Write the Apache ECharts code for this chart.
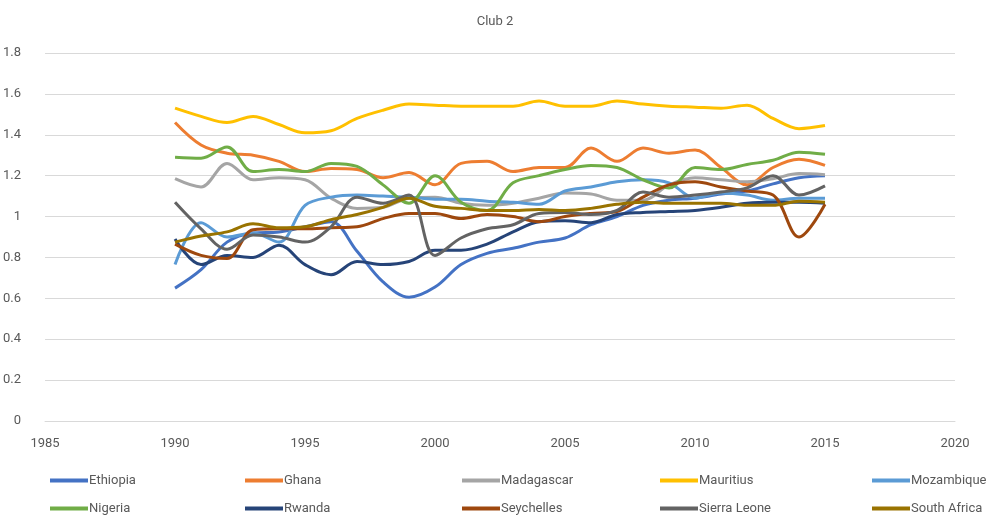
<!DOCTYPE html>
<html>
<head>
<meta charset="utf-8">
<script src="https://cdn.jsdelivr.net/npm/echarts@6/dist/echarts.min.js"></script>
<style>
  html, body { margin: 0; padding: 0; background: #fff; }
  #chart { width: 990px; height: 517px; }
</style>
</head>
<body>
<div id="chart"></div>
<script>
// years on the x axis
var years = [1990, 1991, 1992, 1993, 1994, 1995, 1996, 1997, 1998, 1999,
             2000, 2001, 2002, 2003, 2004, 2005, 2006, 2007, 2008, 2009,
             2010, 2011, 2012, 2013, 2014, 2015];

var ethiopia   = [0.65, 0.74, 0.875, 0.92, 0.925, 0.95, 0.975, 0.83, 0.68, 0.605, 0.655, 0.765, 0.82, 0.845, 0.875, 0.895, 0.96, 1.0, 1.055, 1.08, 1.09, 1.11, 1.125, 1.16, 1.19, 1.2];
var ghana      = [1.46, 1.35, 1.31, 1.30, 1.27, 1.22, 1.235, 1.23, 1.19, 1.215, 1.155, 1.26, 1.27, 1.22, 1.24, 1.24, 1.335, 1.27, 1.335, 1.31, 1.325, 1.24, 1.155, 1.24, 1.28, 1.25];
var madagascar = [1.185, 1.145, 1.26, 1.18, 1.19, 1.18, 1.09, 1.04, 1.045, 1.09, 1.095, 1.065, 1.055, 1.065, 1.09, 1.115, 1.11, 1.08, 1.08, 1.155, 1.19, 1.18, 1.17, 1.185, 1.21, 1.205];
var mauritius  = [1.53, 1.49, 1.46, 1.49, 1.45, 1.41, 1.42, 1.48, 1.52, 1.55, 1.545, 1.54, 1.54, 1.54, 1.565, 1.54, 1.54, 1.565, 1.55, 1.54, 1.535, 1.53, 1.545, 1.48, 1.43, 1.445];
var mozambique = [0.765, 0.97, 0.9, 0.92, 0.875, 1.055, 1.095, 1.105, 1.1, 1.095, 1.085, 1.085, 1.075, 1.07, 1.06, 1.125, 1.145, 1.17, 1.18, 1.165, 1.09, 1.115, 1.105, 1.08, 1.09, 1.09];
var nigeria    = [1.29, 1.285, 1.34, 1.22, 1.23, 1.22, 1.26, 1.245, 1.155, 1.065, 1.2, 1.07, 1.03, 1.165, 1.2, 1.23, 1.25, 1.24, 1.18, 1.14, 1.24, 1.23, 1.255, 1.275, 1.315, 1.305];
var rwanda     = [0.89, 0.765, 0.81, 0.8, 0.86, 0.765, 0.715, 0.78, 0.765, 0.78, 0.835, 0.835, 0.865, 0.925, 0.975, 0.98, 0.97, 1.01, 1.02, 1.025, 1.03, 1.045, 1.065, 1.07, 1.07, 1.065];
var seychelles = [0.865, 0.81, 0.795, 0.935, 0.94, 0.94, 0.945, 0.95, 0.99, 1.015, 1.015, 0.99, 1.01, 1.0, 0.975, 1.0, 1.015, 1.025, 1.095, 1.155, 1.17, 1.145, 1.125, 1.105, 0.9, 1.06];
var sierraLeone = [1.07, 0.94, 0.84, 0.91, 0.9, 0.875, 0.95, 1.095, 1.065, 1.105, 0.81, 0.895, 0.94, 0.96, 1.015, 1.02, 1.01, 1.03, 1.12, 1.095, 1.105, 1.12, 1.14, 1.2, 1.105, 1.15];
var southAfrica = [0.875, 0.905, 0.925, 0.965, 0.945, 0.95, 0.985, 1.01, 1.045, 1.09, 1.05, 1.04, 1.03, 1.03, 1.035, 1.03, 1.04, 1.06, 1.07, 1.065, 1.065, 1.065, 1.055, 1.055, 1.075, 1.07];

var names  = ['Ethiopia', 'Ghana', 'Madagascar', 'Mauritius', 'Mozambique',
              'Nigeria', 'Rwanda', 'Seychelles', 'Sierra Leone', 'South Africa'];
var values = [ethiopia, ghana, madagascar, mauritius, mozambique,
              nigeria, rwanda, seychelles, sierraLeone, southAfrica];
var colors = ['#4472C4', '#ED7D31', '#A5A5A5', '#FFC000', '#5B9BD5',
              '#70AD47', '#264478', '#9E480E', '#636363', '#997300'];

// legend slot positions (two rows, five columns like the Excel layout)
var legendLeft = [50, 245, 462, 660, 872];
var legendTop  = [474, 502];

var font = "Roboto, 'Open Sans', sans-serif";

var series = names.map(function(name, i) {
  return {
    name: name,
    type: 'line',
    smooth: 0.35,
    symbol: 'none',
    color: colors[i],
    lineStyle: { width: 3, color: colors[i] },
    data: years.map(function(y, j) { return [y, values[i][j]]; })
  };
});

var legends = names.map(function(name, i) {
  return {
    data: [name],
    left: legendLeft[i % 5],
    top: legendTop[Math.floor(i / 5)],
    icon: 'rect',
    itemWidth: 38,
    itemHeight: 4,
    itemGap: 0,
    padding: 0,
    textStyle: { color: '#595959', fontSize: 13, fontFamily: font, padding: [0, 0, 0, -4] }
  };
});

var chart = echarts.init(document.getElementById('chart'));
chart.setOption({
  animation: false,
  color: colors,
  title: {
    text: 'Club 2',
    left: 'center',
    top: 10,
    textStyle: { color: '#595959', fontSize: 13, fontWeight: 'normal', fontFamily: font }
  },
  legend: legends,
  grid: { left: 44, right: 35, top: 53, bottom: 96 },
  xAxis: {
    type: 'value',
    min: 1985,
    max: 2020,
    interval: 5,
    axisLine: { lineStyle: { color: '#d9d9d9', width: 1 } },
    axisTick: { show: false },
    splitLine: { show: false },
    axisLabel: {
      color: '#595959', fontSize: 13, fontFamily: font, margin: 16,
      formatter: function(v) { return String(v); }
    }
  },
  yAxis: {
    type: 'value',
    min: 0,
    max: 1.8,
    interval: 0.2,
    axisLine: { show: false },
    axisTick: { show: false },
    splitLine: { lineStyle: { color: '#d9d9d9', width: 1 } },
    axisLabel: {
      color: '#595959', fontSize: 13, fontFamily: font, margin: 24,
      formatter: function(v) { return String(Math.round(v * 10) / 10); }
    }
  },
  series: series
});
</script>
</body>
</html>
